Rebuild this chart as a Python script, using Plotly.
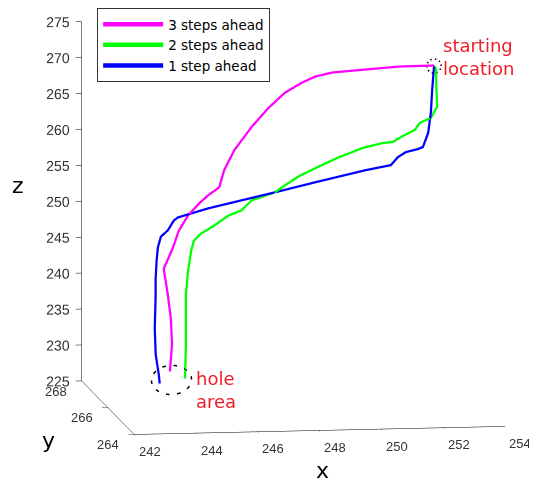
import numpy as np
import plotly.graph_objects as go

# ---- data (depth y assumed ~266) ----
blue_x = [252.57, 252.51, 252.47, 252.38, 252.21, 252.05, 251.66, 251.40, 251.17, 250.35,
          248.72, 247.41, 246.33, 245.25, 244.27, 244.14, 243.94, 243.72, 243.62, 243.58,
          243.55, 243.55, 243.52, 243.55, 243.65, 243.68]
blue_z = [271.49, 268.27, 265.19, 262.26, 260.32, 260.05, 259.67, 258.99, 257.89, 257.27,
          255.74, 254.46, 253.45, 252.43, 251.26, 250.85, 249.47, 248.65, 247.12, 245.30,
          242.92, 240.68, 235.92, 232.28, 229.47, 228.20]
blue_y = [266.0, 266.0, 266.0, 266.0, 266.0, 266.0, 266.0, 266.0, 266.0, 266.0,
          266.0, 266.0, 266.0, 266.0, 266.0, 266.0, 266.0, 266.0, 266.0, 266.0,
          266.0, 266.0, 266.0, 266.0, 266.0, 266.0]

green_x = [252.57, 252.64, 252.64, 252.67, 252.47, 252.11, 251.95, 251.56, 251.23, 250.91,
           250.25, 249.50, 248.72, 248.19, 247.74, 247.41, 246.66, 246.33, 245.91, 245.45,
           245.02, 244.79, 244.70, 244.60, 244.53, 244.53, 244.50]
green_z = [271.63, 271.06, 269.24, 265.88, 264.35, 263.69, 262.72, 261.92, 261.11, 261.00,
           260.36, 259.17, 257.70, 256.63, 255.41, 254.46, 253.41, 252.04, 251.38, 250.03,
           248.95, 247.99, 246.60, 243.80, 240.59, 233.59, 228.83]
green_y = [266.0, 266.0, 266.0, 266.0, 266.0, 266.0, 266.0, 266.0, 266.0, 266.0,
           266.0, 266.0, 266.0, 266.0, 266.0, 266.0, 266.0, 266.0, 266.0, 266.0,
           266.0, 266.0, 266.0, 266.0, 266.0, 266.0, 266.0]

pink_x = [252.57, 251.46, 250.35, 249.27, 248.72, 248.29, 247.74, 247.21, 246.66, 246.10,
          245.77, 245.61, 245.25, 244.96, 244.60, 244.30, 244.11, 243.81, 243.94, 244.04,
          244.08, 244.01]
pink_z = [271.63, 271.59, 271.28, 270.96, 270.45, 269.65, 268.30, 266.25, 263.64, 260.47,
          257.70, 255.33, 254.25, 253.15, 251.51, 249.43, 247.07, 244.16, 240.64, 237.27,
          233.63, 229.85]
pink_y = [266.0, 266.0, 266.0, 266.0, 266.0, 266.0, 266.0, 266.0, 266.0, 266.0,
          266.0, 266.0, 266.0, 266.0, 266.0, 266.0, 266.0, 266.0, 266.0, 266.0,
          266.0, 266.0]

x_ticks = [242, 244, 246, 248, 250, 252, 254]
y_ticks = [264, 266, 268]
z_ticks = [225, 230, 235, 240, 245, 250, 255, 260, 265, 270, 275]
x_range = [242, 254]
y_range = [264, 268]
z_range = [225, 275]

fig = go.Figure()
fig.add_trace(go.Scatter3d(x=pink_x, y=pink_y, z=pink_z, mode="lines",
                           line=dict(color="#FF00FF", width=4.5), name="3 steps ahead"))
fig.add_trace(go.Scatter3d(x=green_x, y=green_y, z=green_z, mode="lines",
                           line=dict(color="#00FF00", width=4.5), name="2 steps ahead"))
fig.add_trace(go.Scatter3d(x=blue_x, y=blue_y, z=blue_z, mode="lines",
                           line=dict(color="#0000FF", width=4.5), name="1 step ahead"))

# dashed ellipses marking start and hole
t = np.linspace(0, 2 * np.pi, 60)
sx, sy, sz = blue_x[0], blue_y[0], (blue_z[0] + green_z[0]) / 2
fig.add_trace(go.Scatter3d(x=sx + 0.23 * np.cos(t), y=[sy] * len(t), z=sz + 0.98 * np.sin(t),
                           mode="lines", line=dict(color="black", width=3, dash="longdash"),
                           showlegend=False, hoverinfo="skip"))
hx = np.mean([blue_x[-1], green_x[-1], pink_x[-1]])
hz = np.mean([blue_z[-1], green_z[-1], pink_z[-1]]) - 0.3
fig.add_trace(go.Scatter3d(x=hx + 0.65 * np.cos(t), y=[266.0] * len(t), z=hz + 2.03 * np.sin(t),
                           mode="lines", line=dict(color="black", width=3, dash="longdash"),
                           showlegend=False, hoverinfo="skip"))

tick_font = dict(family="Liberation Sans, Arial", size=13, color="#333333")
ax_common = dict(showbackground=False, showgrid=False, zeroline=False, showline=True,
                 linecolor="black", linewidth=1, ticks="outside", tickcolor="black",
                 ticklen=6, showspikes=False, tickangle=0, title=dict(text=""),
                 tickfont=tick_font)

r = 1.166
eye = dict(x=-0.143 * r, y=-0.978 * r, z=0.149 * r)
k = 1.63 / 0.969

title_font = dict(family="DejaVu Sans", size=22, color="black")
note_font = dict(family="DejaVu Sans", size=18, color="#EE1C25")

scene_notes = [
    dict(x=blue_x[0], y=blue_y[0], z=blue_z[0], text="starting<br>location",
         showarrow=False, xanchor="left", yanchor="middle", xshift=7, yshift=10,
         align="left", font=note_font),
    dict(x=green_x[-1], y=green_y[-1], z=green_z[-1], text="hole<br>area",
         showarrow=False, xanchor="left", yanchor="middle", xshift=9, yshift=-11,
         align="left", font=note_font),
]
# tick labels placed MATLAB-style next to the tick marks of the x and y axes
eps = 0.01
for xt in x_ticks:
    ax_x = min(max(xt, x_range[0] + eps), x_range[1] - eps)
    scene_notes.append(dict(x=ax_x, y=y_range[0] + eps, z=z_range[0] + eps, text=str(xt),
                            showarrow=False, xanchor="center", yanchor="middle",
                            xshift=16, yshift=-17, font=tick_font))
for yt in y_ticks:
    ax_y = min(max(yt, y_range[0] + eps), y_range[1] - eps)
    scene_notes.append(dict(x=x_range[0] + eps, y=ax_y, z=z_range[0] + eps, text=str(yt),
                            showarrow=False, xanchor="center", yanchor="middle",
                            xshift=-26, yshift=-10, font=tick_font))

fig.update_layout(
    width=537, height=485,
    margin=dict(l=0, r=0, t=0, b=0),
    paper_bgcolor="white",
    showlegend=True,
    legend=dict(x=0.166, y=1.0, xanchor="left", yanchor="top", itemwidth=60,
                bordercolor="#333333", borderwidth=1, bgcolor="white",
                font=dict(family="DejaVu Sans", size=13.5, color="black")),
    scene=dict(
        domain=dict(x=[0.0707, 0.9907], y=[0.1088, 1.0]),
        xaxis=dict(ax_common, range=x_range, tickvals=x_ticks, showticklabels=False),
        yaxis=dict(ax_common, range=y_range, tickvals=y_ticks, showticklabels=False),
        zaxis=dict(ax_common, range=z_range, tickvals=z_ticks),
        aspectmode="manual", aspectratio=dict(x=1.03 * k, y=1.0 * k, z=1.0 * k),
        camera=dict(eye=eye, up=dict(x=0, y=0, z=1), center=dict(x=0, y=0, z=0),
                    projection=dict(type="orthographic")),
        annotations=scene_notes,
    ),
    annotations=[
        dict(x=0.0186, y=0.635, xref="paper", yref="paper", text="z", showarrow=False,
             xanchor="center", yanchor="middle", font=title_font),
        dict(x=0.0745, y=0.109, xref="paper", yref="paper", text="y", showarrow=False,
             xanchor="center", yanchor="middle", font=title_font),
        dict(x=0.585, y=0.047, xref="paper", yref="paper", text="x", showarrow=False,
             xanchor="center", yanchor="middle", font=title_font),
    ],
)

fig.write_html("out.html")
